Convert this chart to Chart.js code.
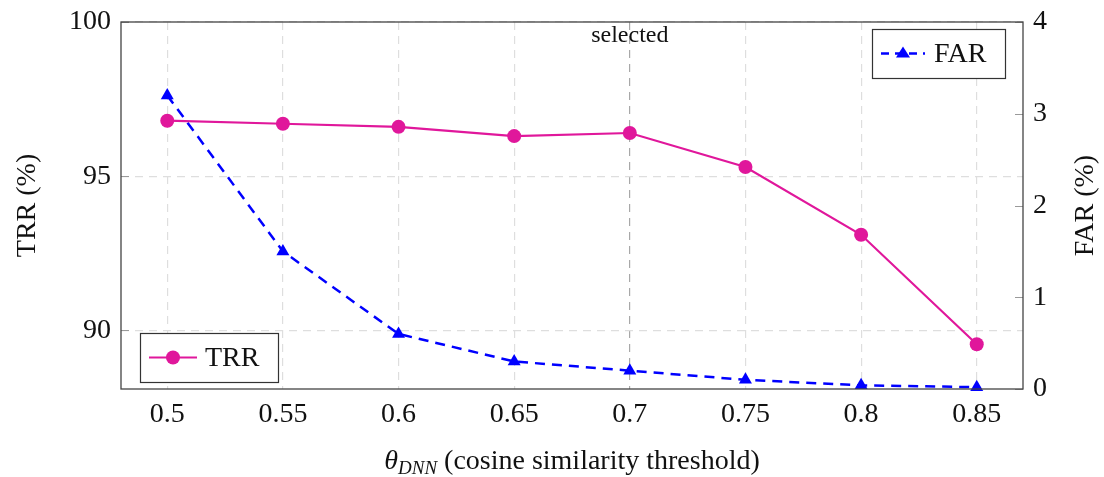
<!DOCTYPE html>
<html>
<head>
  <meta charset="UTF-8" />
  <title>TRR / FAR</title>
  <script src="https://cdn.jsdelivr.net/npm/chart.js"></script>
  <style>
    body { margin: 0; background: #fff; }
  </style>
</head>
<body>
  <canvas id="chart" width="1104" height="477"></canvas>

  <script>
    const thresholds = [0.5, 0.55, 0.6, 0.65, 0.7, 0.75, 0.8, 0.85];
    const trrValues = [96.8, 96.7, 96.6, 96.3, 96.4, 95.3, 93.1, 89.55];
    const farValues = [3.2, 1.5, 0.6, 0.3, 0.2, 0.1, 0.04, 0.02];
    const trrTicks = [90, 95, 100];
    const farTicks = [0, 1, 2, 3, 4];
    const selectedThreshold = 0.7;

    const SERIF = "'Liberation Serif', 'DejaVu Serif', serif";
    const TRR_COLOR = '#e0179b';
    const FAR_COLOR = '#0000ff';

    // rámeček, popisky os, "selected" a dvě legendy (pgfplots styl)
    const decorations = {
      id: 'decorations',
      afterDraw(chart) {
        const ctx = chart.ctx;
        const a = chart.chartArea;
        const yL = chart.scales.yTRR;
        const yR = chart.scales.yFAR;
        ctx.save();

        // vnitřní značky na svislých osách
        ctx.strokeStyle = '#9a9a9a';
        ctx.lineWidth = 1;
        trrTicks.forEach(v => {
          const y = Math.round(yL.getPixelForValue(v)) + 0.5;
          ctx.beginPath(); ctx.moveTo(a.left, y); ctx.lineTo(a.left + 8, y); ctx.stroke();
        });
        farTicks.forEach(v => {
          const y = Math.round(yR.getPixelForValue(v)) + 0.5;
          ctx.beginPath(); ctx.moveTo(a.right, y); ctx.lineTo(a.right - 8, y); ctx.stroke();
        });

        // rámeček
        ctx.strokeStyle = '#444';
        ctx.lineWidth = 1.3;
        ctx.strokeRect(a.left, a.top, a.right - a.left, a.bottom - a.top);

        // "selected"
        const xs = chart.scales.x.getPixelForValue(selectedThreshold);
        ctx.fillStyle = '#111';
        ctx.font = '24px ' + SERIF;
        ctx.textAlign = 'center';
        ctx.textBaseline = 'alphabetic';
        ctx.fillText('selected', xs, a.top + 20);

        // popisky svislých os
        ctx.font = '28px ' + SERIF;
        ctx.textBaseline = 'middle';
        const cy = (a.top + a.bottom) / 2;
        ctx.save();
        ctx.translate(28, cy); ctx.rotate(-Math.PI / 2);
        ctx.fillText('TRR (%)', 0, 0);
        ctx.restore();
        ctx.save();
        ctx.translate(1086, cy); ctx.rotate(-Math.PI / 2);
        ctx.fillText('FAR (%)', 0, 0);
        ctx.restore();

        // popisek osy x s indexem
        const main = '\u03B8';
        const sub = 'DNN';
        const rest = ' (cosine similarity threshold)';
        ctx.textAlign = 'left';
        ctx.textBaseline = 'alphabetic';
        ctx.font = 'italic 28px ' + SERIF;
        const w1 = ctx.measureText(main).width;
        ctx.font = 'italic 19px ' + SERIF;
        const w2 = ctx.measureText(sub).width;
        ctx.font = '28px ' + SERIF;
        const w3 = ctx.measureText(rest).width;
        let x0 = (a.left + a.right) / 2 - (w1 + w2 + w3) / 2;
        const by = 469;
        ctx.font = 'italic 28px ' + SERIF;
        ctx.fillText(main, x0, by);
        ctx.font = 'italic 19px ' + SERIF;
        ctx.fillText(sub, x0 + w1, by + 5);
        ctx.font = '28px ' + SERIF;
        ctx.fillText(rest, x0 + w1 + w2, by);

        // legendy
        drawLegendBox(ctx, 140, 333, 138, 49, 'TRR', (lx, ly) => {
          ctx.strokeStyle = TRR_COLOR; ctx.lineWidth = 2.2; ctx.setLineDash([]);
          ctx.beginPath(); ctx.moveTo(lx, ly); ctx.lineTo(lx + 48, ly); ctx.stroke();
          ctx.fillStyle = TRR_COLOR;
          ctx.beginPath(); ctx.arc(lx + 24, ly, 7, 0, Math.PI * 2); ctx.fill();
        });
        drawLegendBox(ctx, 872, 29, 133, 49, 'FAR', (lx, ly) => {
          ctx.strokeStyle = FAR_COLOR; ctx.lineWidth = 2.5; ctx.setLineDash([8, 6]);
          ctx.beginPath(); ctx.moveTo(lx, ly); ctx.lineTo(lx + 44, ly); ctx.stroke();
          ctx.setLineDash([]);
          ctx.fillStyle = FAR_COLOR;
          ctx.beginPath();
          ctx.moveTo(lx + 22, ly - 7); ctx.lineTo(lx + 29, ly + 4); ctx.lineTo(lx + 15, ly + 4);
          ctx.closePath(); ctx.fill();
        });

        ctx.restore();
      }
    };

    function drawLegendBox(ctx, x, y, w, h, label, marker) {
      ctx.save();
      ctx.fillStyle = '#fff';
      ctx.fillRect(x, y, w, h);
      ctx.strokeStyle = '#333';
      ctx.lineWidth = 1.2;
      ctx.setLineDash([]);
      ctx.strokeRect(x + 0.5, y + 0.5, w, h);
      marker(x + 9, y + h / 2);
      ctx.fillStyle = '#111';
      ctx.font = '28px ' + SERIF;
      ctx.textAlign = 'left';
      ctx.textBaseline = 'middle';
      ctx.fillText(label, x + (label === 'TRR' ? 65 : 62), y + h / 2 + 1);
      ctx.restore();
    }

    // svislé osy: pevná šířka, bez automatického odsazení shora/zdola
    function fixVertical(width) {
      return s => {
        s.width = width;
        s.paddingTop = 0;
        s.paddingBottom = 0;
      };
    }

    const ctx = document.getElementById('chart').getContext('2d');
    new Chart(ctx, {
      type: 'line',
      data: {
        datasets: [
          {
            label: 'TRR',
            data: thresholds.map((t, i) => ({ x: t, y: trrValues[i] })),
            yAxisID: 'yTRR',
            borderColor: TRR_COLOR,
            backgroundColor: TRR_COLOR,
            borderWidth: 2.2,
            pointRadius: 7,
            pointStyle: 'circle',
            pointBorderWidth: 0,
            tension: 0,
            clip: false
          },
          {
            label: 'FAR',
            data: thresholds.map((t, i) => ({ x: t, y: farValues[i] })),
            yAxisID: 'yFAR',
            borderColor: FAR_COLOR,
            backgroundColor: FAR_COLOR,
            borderWidth: 2.5,
            borderDash: [10, 7],
            pointRadius: 7.5,
            pointStyle: 'triangle',
            pointBorderWidth: 0,
            tension: 0,
            clip: false
          }
        ]
      },
      options: {
        responsive: false,
        animation: false,
        layout: { padding: { top: 22, bottom: 0, left: 0, right: 0 } },
        plugins: {
          legend: { display: false },
          tooltip: { enabled: false }
        },
        scales: {
          x: {
            type: 'linear',
            min: 0.48,
            max: 0.87,
            afterBuildTicks: s => { s.ticks = thresholds.map(v => ({ value: v })); },
            afterFit: s => { s.height = 88; s.paddingLeft = 0; s.paddingRight = 0; },
            ticks: {
              color: '#111',
              padding: 9,
              font: { family: SERIF, size: 28 },
              callback: v => String(v)
            },
            grid: {
              color: c => (c.tick && c.tick.value === selectedThreshold) ? '#a8a8a8' : '#dedede',
              lineWidth: 1.2,
              drawTicks: false
            },
            border: { display: false, dash: [8, 6] }
          },
          yTRR: {
            position: 'left',
            min: 88.1,
            max: 100,
            afterBuildTicks: s => { s.ticks = trrTicks.map(v => ({ value: v })); },
            afterFit: fixVertical(121),
            ticks: {
              color: '#111',
              padding: 10,
              font: { family: SERIF, size: 28 }
            },
            grid: { color: '#dedede', lineWidth: 1.2, drawTicks: false },
            border: { display: false, dash: [8, 6] }
          },
          yFAR: {
            position: 'right',
            min: 0,
            max: 4,
            afterBuildTicks: s => { s.ticks = farTicks.map(v => ({ value: v })); },
            afterFit: fixVertical(81),
            ticks: {
              color: '#111',
              padding: 10,
              font: { family: SERIF, size: 28 }
            },
            grid: { drawOnChartArea: false, drawTicks: false },
            border: { display: false }
          }
        }
      },
      plugins: [decorations]
    });
  </script>
</body>
</html>
